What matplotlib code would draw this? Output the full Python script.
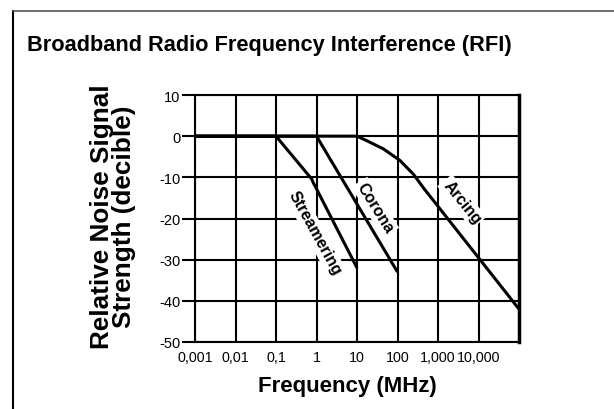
import matplotlib
matplotlib.use("Agg")
import matplotlib.pyplot as plt
from matplotlib.lines import Line2D

plt.rcParams['font.family'] = ['Liberation Sans', 'DejaVu Sans']

# ---- data ----
freq_ticks = [0.001, 0.01, 0.1, 1, 10, 100, 1000, 10000]
freq_labels = ['0,001', '0,01', '0,1', '1', '10', '100', '1,000', '10,000']
db_ticks = [10, 0, -10, -20, -30, -40, -50]
db_labels = ['10', '0', '-10', '-20', '-30', '-40', '-50']

streamering_f = [0.001, 0.1, 0.76, 0.84, 0.92, 10]
streamering_db = [0, 0, -10.4, -11.4, -12.1, -32]

corona_f = [0.001, 1, 100]
corona_db = [0, 0, -33]

arcing_f = [0.001, 10, 17, 45, 115, 250, 440, 100000]
arcing_db = [0, 0, -1.05, -3.1, -5.9, -9.3, -12.6, -42]

labels = ['Streamering', 'Corona', 'Arcing']
label_f = [0.91, 28, 3900]
label_db = [-23.4, -17.3, -15.9]
label_rot = [-61, -58, -51]

title = 'Broadband Radio Frequency Interference (RFI)'
xlabel = 'Frequency (MHz)'
ylabel = 'Relative Noise Signal\nStrength (decible)'

# ---- figure ----
W, H = 614, 410
fig = plt.figure(figsize=(W / 100, H / 100), dpi=100)
ax = fig.add_axes([195 / W, 1 - 343 / H, (519 - 195) / W, (343 - 96) / H])

ax.set_xscale('log')
ax.set_xlim(1e-3, 1e5)
ax.set_ylim(-50, 10)

ax.set_xticks(freq_ticks)
ax.set_xticklabels(freq_labels)
ax.xaxis.set_minor_locator(matplotlib.ticker.NullLocator())
ax.set_yticks(db_ticks)
ax.set_yticklabels(db_labels)

ax.tick_params(axis='x', length=0, pad=6, labelsize=10.3)
ax.tick_params(axis='y', direction='out', length=9.5, width=1.5, pad=1, labelsize=10.5)

ax.grid(True, color='black', linewidth=1.5, zorder=1)
ax.set_axisbelow(True)
for side, sp in ax.spines.items():
    sp.set_color('black')
    sp.set_linewidth(1.5)
ax.spines['right'].set_linewidth(2.5)

lw = 2.2
ax.plot(streamering_f, streamering_db, color='black', lw=lw, zorder=4, solid_capstyle='butt')
ax.plot(corona_f, corona_db, color='black', lw=lw, zorder=4, solid_capstyle='butt')
ax.plot(arcing_f, arcing_db, color='black', lw=lw, zorder=4, solid_capstyle='butt')

for t, f, d, r in zip(labels, label_f, label_db, label_rot):
    ax.text(f, d, t, rotation=r, rotation_mode='anchor', ha='center', va='center',
            fontsize=11.5, fontweight='bold', zorder=3,
            bbox=dict(facecolor='white', edgecolor='none', pad=1.5))

fig.text(269 / W, 1 - 45 / H, title, ha='center', va='center',
         fontsize=15.7, fontweight='bold')
fig.text(347 / W, 1 - 387 / H, xlabel, ha='center', va='center',
         fontsize=16, fontweight='bold')
fig.text(113 / W, 1 - 217 / H, ylabel, ha='center', va='center', rotation=90,
         fontsize=18.8, fontweight='bold', linespacing=0.9)

# outer frame
fig.add_artist(Line2D([12.5 / W, 12.5 / W], [0, 1 - 12 / H], color='black', lw=1.5,
                      transform=fig.transFigure))
fig.add_artist(Line2D([12.5 / W, 1], [1 - 12 / H, 1 - 12 / H], color='#555555', lw=1.2,
                      transform=fig.transFigure))

fig.savefig('out.png', dpi=100)
